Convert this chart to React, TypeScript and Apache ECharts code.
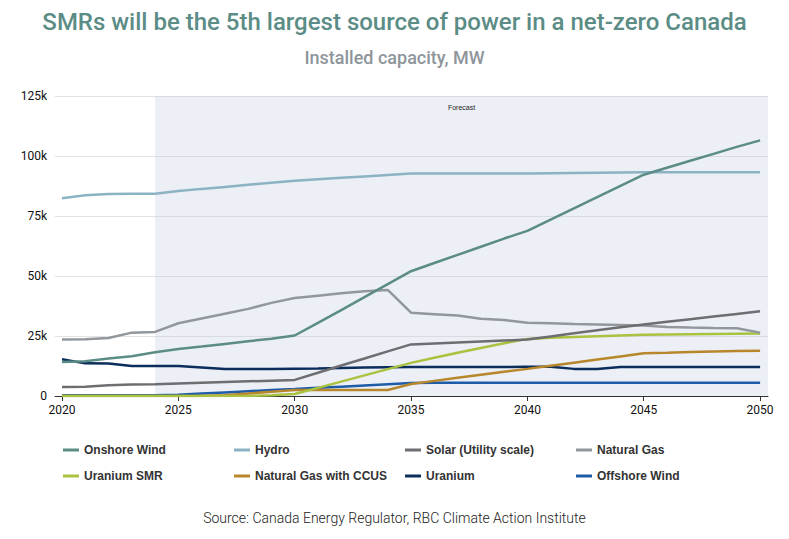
import React, { useEffect, useRef } from "react";
import * as echarts from "echarts";

// Values in thousands of MW (k)
const years = [
  2020, 2021, 2022, 2023, 2024, 2025, 2026, 2027, 2028, 2029, 2030,
  2031, 2032, 2033, 2034, 2035, 2036, 2037, 2038, 2039, 2040,
  2041, 2042, 2043, 2044, 2045, 2046, 2047, 2048, 2049, 2050,
];

const onshoreWind = [
  14.2, 14.5, 15.6, 16.6, 18.2, 19.6, 20.6, 21.7, 22.8, 23.9, 25.2,
  30.5, 35.8, 41.2, 46.6, 52.0, 55.4, 58.8, 62.2, 65.6, 68.8,
  73.5, 78.2, 82.9, 87.6, 92.2, 95.1, 98.0, 100.9, 103.8, 106.5,
];
const hydro = [
  82.4, 83.6, 84.2, 84.3, 84.3, 85.4, 86.3, 87.1, 88.0, 88.9, 89.7,
  90.3, 90.9, 91.5, 92.1, 92.7, 92.7, 92.7, 92.7, 92.7, 92.7,
  92.8, 92.9, 93.0, 93.1, 93.2, 93.2, 93.2, 93.2, 93.2, 93.2,
];
const solarUtility = [
  3.7, 3.9, 4.5, 4.8, 4.9, 5.2, 5.5, 5.8, 6.1, 6.4, 6.7,
  9.7, 12.7, 15.6, 18.6, 21.5, 21.9, 22.3, 22.7, 23.1, 23.5,
  24.8, 26.1, 27.4, 28.6, 29.8, 30.9, 32.0, 33.1, 34.2, 35.3,
];
const naturalGas = [
  23.5, 23.6, 24.2, 26.4, 26.7, 30.3, 32.3, 34.3, 36.3, 38.8, 40.8,
  41.8, 42.8, 43.6, 44.2, 34.7, 34.1, 33.5, 32.2, 31.7, 30.5,
  30.3, 30.0, 29.8, 29.6, 29.4, 28.8, 28.5, 28.3, 28.2, 26.4,
];
const uraniumSMR = [
  0, 0, 0, 0, 0, 0, 0, 0, 0, 0.3, 0.8,
  3.4, 6.0, 8.6, 11.2, 13.8, 15.9, 18.0, 20.0, 22.0, 23.8,
  24.3, 24.6, 24.9, 25.2, 25.5, 25.6, 25.7, 25.8, 25.9, 26.0,
];
const naturalGasCCUS = [
  0, 0, 0, 0, 0, 0, 0, 0.3, 1.0, 1.8, 2.5,
  2.5, 2.5, 2.5, 2.5, 5.0, 6.3, 7.6, 8.9, 10.1, 11.3,
  12.6, 13.9, 15.2, 16.5, 17.8, 18.0, 18.3, 18.5, 18.7, 18.9,
];
const uranium = [
  15.3, 13.6, 13.5, 12.5, 12.5, 12.5, 11.9, 11.3, 11.3, 11.3, 11.4,
  11.5, 11.7, 11.9, 12.0, 12.1, 12.1, 12.1, 12.1, 12.1, 12.2,
  12.2, 11.3, 11.3, 12.1, 12.1, 12.1, 12.1, 12.1, 12.1, 12.1,
];
const offshoreWind = [
  0.3, 0.3, 0.3, 0.3, 0.3, 0.5, 1.0, 1.5, 2.0, 2.5, 2.9,
  3.4, 3.9, 4.4, 4.9, 5.4, 5.5, 5.5, 5.5, 5.5, 5.5,
  5.5, 5.5, 5.5, 5.5, 5.5, 5.5, 5.5, 5.5, 5.5, 5.5,
];

const seriesNames = [
  "Onshore Wind",
  "Hydro",
  "Solar (Utility scale)",
  "Natural Gas",
  "Uranium SMR",
  "Natural Gas with CCUS",
  "Uranium",
  "Offshore Wind",
];
const seriesValues = [
  onshoreWind,
  hydro,
  solarUtility,
  naturalGas,
  uraniumSMR,
  naturalGasCCUS,
  uranium,
  offshoreWind,
];
const seriesColors = [
  "#5b8c85",
  "#8cb3c3",
  "#6d6e71",
  "#92979c",
  "#a9c23f",
  "#b8862b",
  "#0b2d5b",
  "#1f5ca8",
];

const xTickValues = [2020, 2025, 2030, 2035, 2040, 2045, 2050];
const yTickLabels = ["0", "25k", "50k", "75k", "100k", "125k"];
const forecastStart = 2024;

const titleText = "SMRs will be the 5th largest source of power in a net-zero Canada";
const subtitleText = "Installed capacity, MW";
const sourceText = "Source: Canada Energy Regulator, RBC Climate Action Institute";

export default function App() {
  const ref = useRef<HTMLDivElement>(null);

  useEffect(() => {
    document.body.style.margin = "0";
    if (!ref.current) return;
    const chart = echarts.init(ref.current, undefined, { renderer: "svg" });

    const xMin = 2019.7;
    const xMax = 2050.34;

    const series: any[] = seriesNames.map((name, i) => ({
      name,
      type: "line",
      data: years.map((y, j) => [y, seriesValues[i][j]]),
      showSymbol: false,
      symbol: "none",
      lineStyle: { width: 2.5, color: seriesColors[i] },
      itemStyle: { color: seriesColors[i] },
      z: 3 + (7 - i),
    }));

    series[0].markArea = {
      silent: true,
      itemStyle: { color: "rgba(192,202,225,0.3)" },
      label: {
        show: true,
        position: "insideTop",
        formatter: "Forecast",
        fontSize: 7,
        color: "#222",
        distance: 8,
        fontFamily: "Liberation Sans, Arial, sans-serif",
      },
      data: [[{ xAxis: forecastStart }, { xAxis: xMax }]],
    };

    const colLefts = [58, 229, 400, 571];
    const legends = colLefts.map((left, c) => ({
      orient: "vertical",
      left,
      top: 439,
      itemGap: 14,
      itemWidth: 16,
      itemHeight: 3,
      icon: "rect",
      selectedMode: false,
      data: [seriesNames[c], seriesNames[c + 4]],
      textStyle: {
        fontSize: 12,
        fontWeight: "bold",
        color: "#333",
        fontFamily: "Liberation Sans, Arial, sans-serif",
      },
    }));

    chart.setOption({
      animation: false,
      title: [
        {
          text: titleText,
          left: "center",
          top: 5,
          textStyle: {
            fontFamily: "Roboto, sans-serif",
            fontSize: 24,
            fontWeight: 500,
            color: "#5b8c85",
          },
        },
        {
          text: subtitleText,
          left: "center",
          top: 43,
          textStyle: {
            fontFamily: "Roboto, sans-serif",
            fontSize: 18,
            fontWeight: 500,
            color: "#8e959b",
          },
        },
        {
          text: sourceText,
          left: "center",
          top: 506,
          textStyle: {
            fontFamily: "Roboto, sans-serif",
            fontSize: 14,
            fontWeight: 300,
            color: "#222",
          },
        },
      ],
      legend: legends,
      grid: { left: 55, right: 21, top: 96, bottom: 143, containLabel: false },
      xAxis: {
        type: "value",
        min: xMin,
        max: xMax,
        splitLine: { show: false },
        axisLine: { show: true, lineStyle: { color: "#333", width: 1 } },
        axisTick: {
          show: true,
          customValues: xTickValues,
          length: 5,
          lineStyle: { color: "#333" },
        },
        axisLabel: {
          customValues: xTickValues,
          color: "#111",
          fontSize: 12,
          margin: 8,
          fontFamily: "Roboto, sans-serif",
          formatter: (v: number) => String(Math.round(v)),
        },
      },
      yAxis: {
        type: "value",
        min: 0,
        max: 125,
        interval: 25,
        axisLine: { show: false },
        axisTick: { show: false },
        splitLine: { show: true, lineStyle: { color: "#e3e3e3", width: 1 } },
        axisLabel: {
          color: "#111",
          fontSize: 12,
          margin: 8,
          fontFamily: "Roboto, sans-serif",
          formatter: (v: number) => yTickLabels[Math.round(v / 25)] ?? "",
        },
      },
      series,
    });

    return () => chart.dispose();
  }, []);

  return <div ref={ref} style={{ width: 789, height: 539 }} />;
}
